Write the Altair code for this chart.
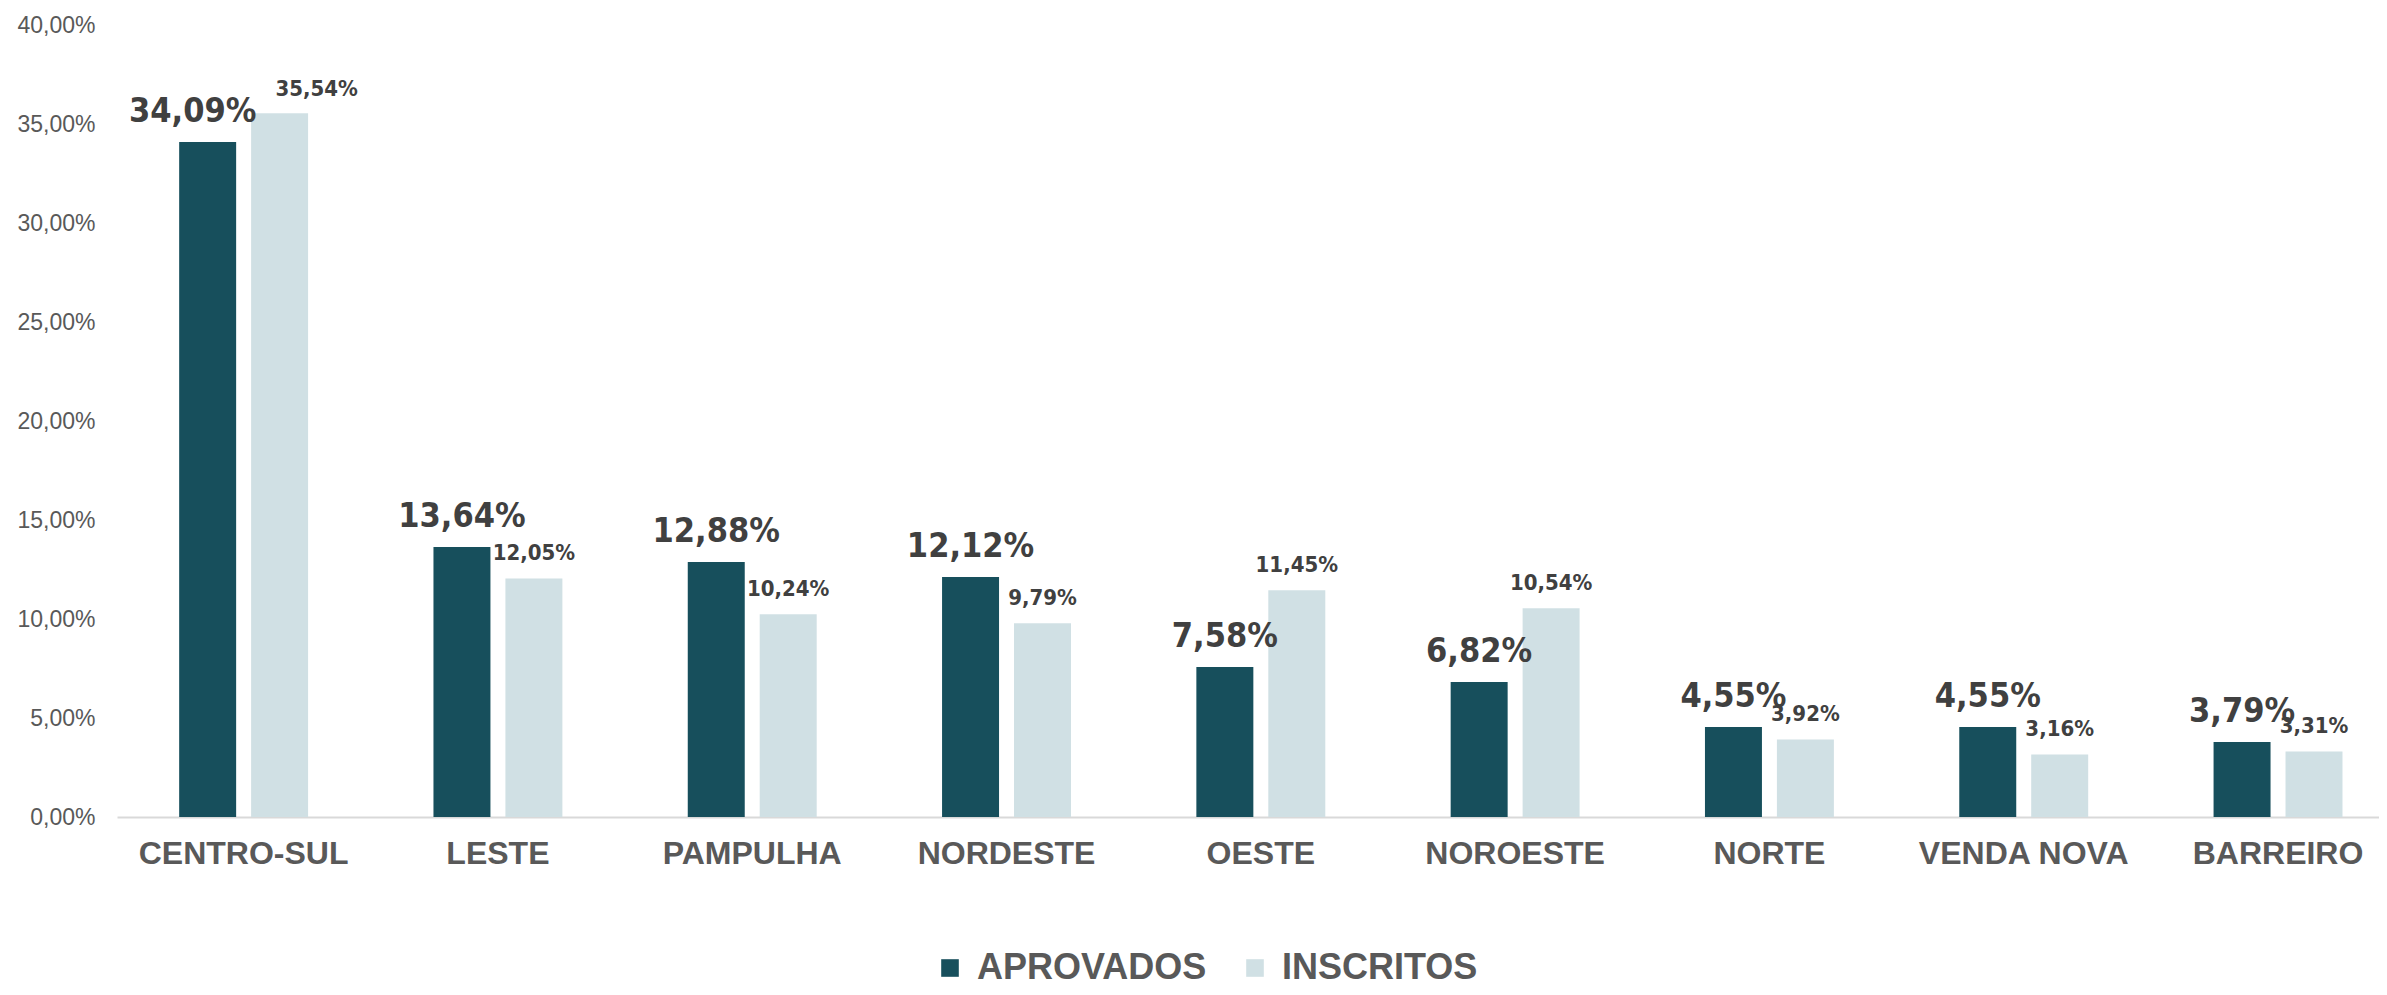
import altair as alt
import pandas as pd

categories = ["CENTRO-SUL", "LESTE", "PAMPULHA", "NORDESTE", "OESTE",
              "NOROESTE", "NORTE", "VENDA NOVA", "BARREIRO"]
aprovados = [34.09, 13.64, 12.88, 12.12, 7.58, 6.82, 4.55, 4.55, 3.79]
inscritos = [35.54, 12.05, 10.24, 9.79, 11.45, 10.54, 3.92, 3.16, 3.31]
series = ["APROVADOS", "INSCRITOS"]
colors = ["#174F5C", "#D0E0E4"]
y_ticks = [0, 5, 10, 15, 20, 25, 30, 35, 40]

rows = []
for i, c in enumerate(categories):
    for s, vals in zip(series, [aprovados, inscritos]):
        v = vals[i]
        rows.append({"cat": c, "series": s, "value": v, "first": i == 0,
                     "label": f"{v:.2f}".replace(".", ",") + "%"})
df = pd.DataFrame(rows)

LABEL_FONT = "DejaVu Sans Condensed, Liberation Sans Narrow, sans-serif"
AXIS_FONT = "Liberation Sans, Arial, sans-serif"

x_enc = alt.X("cat:N", sort=categories,
              scale=alt.Scale(paddingInner=0.493, paddingOuter=0.194, align=0.63),
              axis=alt.Axis(title=None, labelAngle=0, labelFontSize=32,
                            labelFont=AXIS_FONT, labelLimit=0,
                            labelFontWeight="bold", labelColor="#595959",
                            labelPadding=21, ticks=False, domain=True,
                            domainColor="#D9D9D9", domainWidth=2, grid=False))
xo_enc = alt.XOffset("series:N", sort=series,
                     scale=alt.Scale(domain=series, paddingInner=0.208, paddingOuter=0))
y_enc = alt.Y("value:Q",
              scale=alt.Scale(domain=[0, 40], nice=False),
              axis=alt.Axis(title=None, values=y_ticks, grid=False, ticks=False,
                            domain=False, labelFontSize=23,
                            labelFont=AXIS_FONT,
                            labelColor="#595959", labelPadding=22,
                            labelExpr="replace(format(datum.value, '.2f'), '.', ',') + '%'"))

base = alt.Chart(df)

bars = base.mark_bar().encode(
    x=x_enc, xOffset=xo_enc, y=y_enc,
    color=alt.Color("series:N", sort=series,
                    scale=alt.Scale(domain=series, range=colors),
                    legend=alt.Legend(title=None, orient="none", direction="horizontal",
                                      legendX=815, legendY=925, padding=0,
                                      symbolType="square", symbolSize=310,
                                      symbolStrokeWidth=0, labelFontSize=36,
                                      labelFont=AXIS_FONT, labelLimit=0,
                                      labelFontWeight="bold", labelColor="#595959",
                                      labelOffset=9, columnPadding=30)))


def labels(series_name, size, dy, is_first, dx=0):
    cond = f"datum.series == '{series_name}' && {'datum.first' if is_first else '!datum.first'}"
    return base.transform_filter(cond).mark_text(
        font=LABEL_FONT, fontWeight="bold", fontSize=size, color="#404040",
        baseline="alphabetic", dy=dy, dx=dx).encode(
        x=alt.X("cat:N", sort=categories), xOffset=alt.XOffset("series:N", sort=series),
        y="value:Q", text="label:N")


BIG = 34
SMALL = 22

chart = alt.layer(
    bars,
    labels("APROVADOS", BIG, -20, False),
    labels("INSCRITOS", SMALL, -18, False),
    labels("APROVADOS", BIG, -20, True, dx=-15),
    labels("INSCRITOS", SMALL, -17, True, dx=37),
).properties(
    width=2262, height=792,
    autosize=alt.AutoSizeParams(type="none"),
    padding={"left": 109, "top": 17, "right": 0, "bottom": 170},
).configure_view(stroke=None)

chart.save("out.html", embed_options={"renderer": "svg", "actions": False})
